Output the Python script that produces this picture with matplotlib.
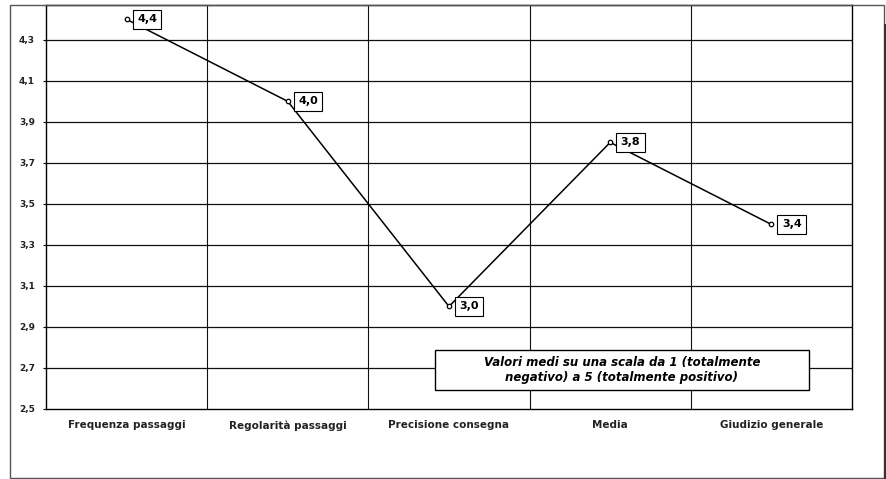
import matplotlib
matplotlib.use("Agg")
import matplotlib.pyplot as plt
from matplotlib.patches import Rectangle

# Survey results: mean scores on a 1-5 scale
categories = ["Frequenza passaggi", "Regolarità passaggi", "Precisione consegna",
              "Media", "Giudizio generale"]
values = [4.4, 4.0, 3.0, 3.8, 3.4]
value_labels = ["4,4", "4,0", "3,0", "3,8", "3,4"]
y_ticks = [2.5, 2.7, 2.9, 3.1, 3.3, 3.5, 3.7, 3.9, 4.1, 4.3]
y_tick_labels = ["2,5", "2,7", "2,9", "3,1", "3,3", "3,5", "3,7", "3,9", "4,1", "4,3"]
note = "Valori medi su una scala da 1 (totalmente\nnegativo) a 5 (totalmente positivo)"

plt.rcParams["font.family"] = ["DejaVu Sans"]

W, H = 887, 479
fig = plt.figure(figsize=(W / 100, H / 100), dpi=100)
fig.patch.set_facecolor("white")

def fx(px):
    return px / W

def fy(py):
    return 1 - py / H

# outer frame and its right-hand shadow
fig.add_artist(Rectangle((fx(10), fy(478)), fx(884) - fx(10), fy(5) - fy(478),
                         transform=fig.transFigure, fill=False,
                         edgecolor="#555555", lw=1.0))
fig.add_artist(Rectangle((fx(884), fy(479)), fx(887) - fx(884), fy(24) - fy(479),
                         transform=fig.transFigure, facecolor="#333333",
                         edgecolor="none"))

ax = fig.add_axes([fx(46), fy(409), fx(852) - fx(46), fy(5) - fy(409)])
x = list(range(len(categories)))

ax.set_xlim(-0.5, len(categories) - 0.5)
ax.set_ylim(2.5, 4.47)

# grid: horizontal at each tick, vertical between categories
for yt in y_ticks[1:]:
    ax.axhline(yt, color="#111111", lw=0.9, zorder=1)
for i in range(len(categories) - 1):
    ax.axvline(i + 0.5, color="#111111", lw=0.8, zorder=1)

for s in ax.spines.values():
    s.set_color("black")
    s.set_linewidth(1.0)

ax.set_yticks(y_ticks)
ax.set_yticklabels(y_tick_labels, fontsize=6.5, fontweight="bold", color="#222222")
ax.set_xticks(x)
ax.set_xticklabels(categories, fontsize=7.5, fontweight="bold", color="#222222")
ax.tick_params(axis="y", length=2, width=0.8, pad=6)
ax.tick_params(axis="x", length=0, pad=8)

ax.plot(x, values, color="black", lw=1.1, marker="o", markersize=3.2,
        markerfacecolor="white", markeredgecolor="black", markeredgewidth=0.9,
        zorder=3)

for xi, v, lab in zip(x, values, value_labels):
    ax.annotate(lab, (xi, v), xytext=(7.5, 0), textcoords="offset points",
                ha="left", va="center", fontsize=8, fontweight="bold",
                bbox=dict(boxstyle="square,pad=0.4", facecolor="white",
                          edgecolor="black", lw=0.8),
                zorder=4)

# explanatory note in a framed box
fig.add_artist(Rectangle((fx(435), fy(390)), fx(809) - fx(435), fy(350) - fy(390),
                         transform=fig.transFigure, facecolor="white",
                         edgecolor="black", lw=1.0, zorder=5))
fig.text(fx(622), fy(370), note, ha="center", va="center", fontsize=8.5,
         fontweight="bold", fontstyle="italic", linespacing=1.2, zorder=6)

fig.savefig("out.png", dpi=100, facecolor="white")
